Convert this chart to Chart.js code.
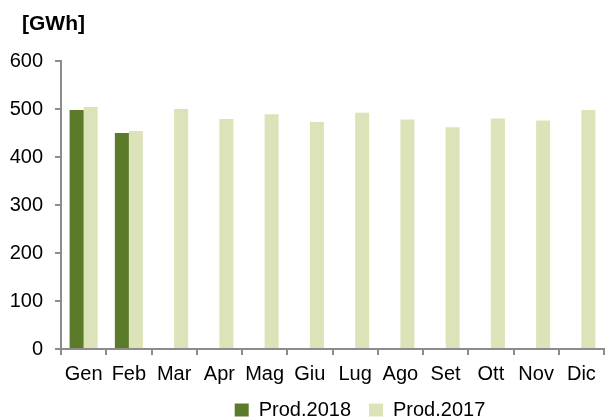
<!DOCTYPE html>
<html lang="it">
<head>
<meta charset="utf-8">
<title>Produzione mensile</title>
<script src="https://cdn.jsdelivr.net/npm/chart.js@4.4.1/dist/chart.umd.min.js"></script>
<style>
    html, body { margin: 0; padding: 0; background: #fff; }
    #contenitore { width: 605px; height: 419px; position: relative; }
</style>
</head>
<body>
<div id="contenitore"><canvas id="produzioneChart"></canvas></div>
<script>
// dati (GWh)
const mesi = ['Gen', 'Feb', 'Mar', 'Apr', 'Mag', 'Giu', 'Lug', 'Ago', 'Set', 'Ott', 'Nov', 'Dic'];
const prod2018 = [498, 450, null, null, null, null, null, null, null, null, null, null];
const prod2017 = [504, 454, 500, 479, 489, 473, 492, 478, 462, 480, 476, 498];
const tickY = [0, 100, 200, 300, 400, 500, 600];

let produzioneChart = null;

// titolo "[GWh]" in alto a sinistra
const unitaMisura = {
    id: 'unitaMisura',
    afterDraw(chart) {
        const ctx = chart.ctx;
        ctx.save();
        ctx.font = 'bold 21px "Liberation Sans", Arial, sans-serif';
        ctx.fillStyle = '#000';
        ctx.textBaseline = 'middle';
        ctx.fillText('[GWh]', 22, 24);
        ctx.restore();
    }
};

// la legenda nell'originale è spostata a destra e molto vicina al bordo
const spostaLegenda = {
    id: 'spostaLegenda',
    beforeDraw(chart) {
        const l = chart.legend;
        if (!l) return;
        l.left = 118;
        l.right = 602;
        l.top = 382;
        l.bottom = 419;
    }
};

document.addEventListener('DOMContentLoaded', function() {
    const ctx = document.getElementById('produzioneChart').getContext('2d');
    Chart.defaults.font.family = '"Liberation Sans", Arial, sans-serif';
    Chart.defaults.color = '#000';

    produzioneChart = new Chart(ctx, {
        type: 'bar',
        data: {
            labels: mesi,
            datasets: [{
                label: 'Prod.2018',
                data: prod2018,
                backgroundColor: '#5c7b2a',
                borderWidth: 0
            }, {
                label: 'Prod.2017',
                data: prod2017,
                backgroundColor: '#dde3b9',
                borderWidth: 0
            }]
        },
        options: {
            responsive: true,
            maintainAspectRatio: false,
            animation: false,
            categoryPercentage: 0.62,
            barPercentage: 1,
            layout: { padding: { top: 61, right: 1, left: 0, bottom: 0 } },
            plugins: {
                legend: {
                    position: 'bottom',
                    maxHeight: 25,
                    labels: {
                        boxWidth: 14,
                        boxHeight: 13,
                        padding: 18,
                        font: { size: 20 },
                        color: '#000'
                    }
                },
                tooltip: { enabled: false }
            },
            scales: {
                x: {
                    grid: {
                        offset: true,
                        drawOnChartArea: false,
                        drawTicks: true,
                        tickLength: 6,
                        color: '#8c8c8c',
                        lineWidth: 2
                    },
                    border: { color: '#8c8c8c', width: 2 },
                    ticks: { font: { size: 20 }, color: '#000', padding: 7, maxRotation: 0 },
                    afterFit: s => { s.height = 45; }
                },
                y: {
                    min: 0,
                    max: 600,
                    afterBuildTicks: s => { s.ticks = tickY.map(v => ({ value: v })); },
                    grid: {
                        drawOnChartArea: false,
                        drawTicks: true,
                        tickLength: 6,
                        color: '#8c8c8c',
                        lineWidth: 2
                    },
                    border: { color: '#8c8c8c', width: 2 },
                    ticks: { font: { size: 20 }, color: '#000', padding: 12 },
                    afterFit: s => { s.width = 61; }
                }
            }
        },
        plugins: [unitaMisura, spostaLegenda]
    });
});
</script>
</body>
</html>
